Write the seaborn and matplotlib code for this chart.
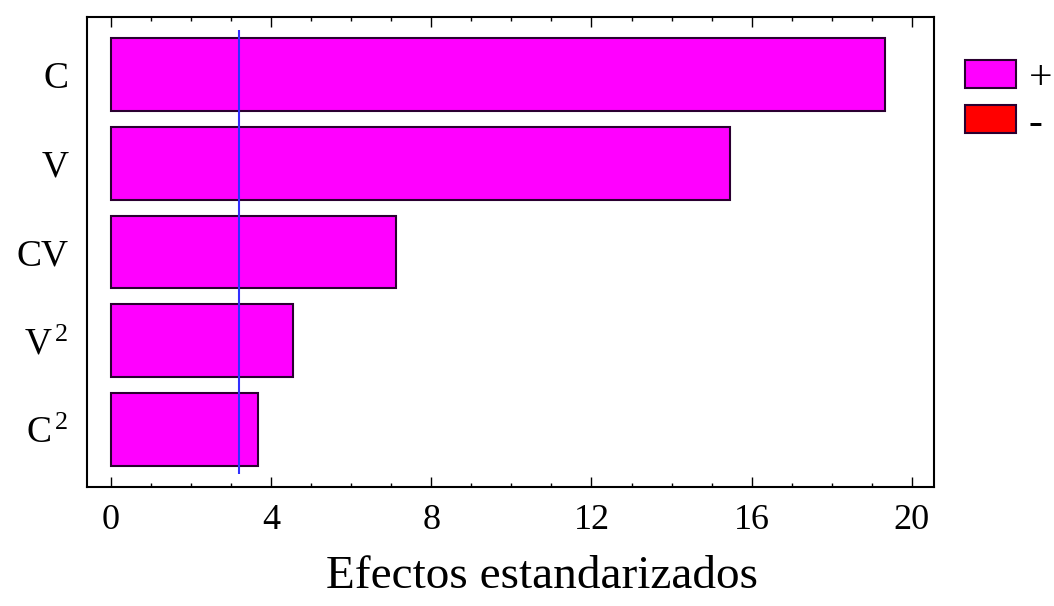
import matplotlib
matplotlib.use('Agg')
import matplotlib.pyplot as plt
from matplotlib.patches import Patch
from matplotlib.ticker import MultipleLocator
import pandas as pd
import seaborn as sns

# standardized effects (Pareto chart)
factors = [r'C', r'V', r'CV', r'V$^{\,2}$', r'C$^{\,2}$']
effects = [19.33, 15.47, 7.11, 4.54, 3.68]
signs = ['+', '+', '+', '+', '+']
critical = 3.2

legend_labels = ['+', '-']
legend_colors = ['#ff00ff', '#ff0000']

sns.set_style('white')
plt.rcParams['font.family'] = ['Liberation Serif', 'DejaVu Serif']
plt.rcParams['mathtext.fontset'] = 'custom'
plt.rcParams['mathtext.rm'] = 'Liberation Serif'
plt.rcParams['mathtext.it'] = 'Liberation Serif'
plt.rcParams['text.color'] = 'black'
plt.rcParams['xtick.color'] = 'black'
plt.rcParams['ytick.color'] = 'black'
plt.rcParams['axes.labelcolor'] = 'black'

df = pd.DataFrame({'factor': factors, 'effect': effects, 'sign': signs})

fig = plt.figure(figsize=(10.54, 6.06), dpi=100)
ax = fig.add_axes([0.0825, 0.196, 0.8035, 0.776])

sns.barplot(data=df, y='factor', x='effect', hue='sign', orient='h',
            palette={'+': '#ff00ff', '-': '#ff0000'}, width=0.82, saturation=1,
            edgecolor='#2a0030', linewidth=1.5, legend=False, ax=ax)

ax.vlines(critical, -0.5, 4.5, color='#3030ff', linewidth=1.5)

ax.set_xlim(-0.6, 20.55)
ax.set_ylim(4.65, -0.65)
ax.xaxis.set_major_locator(MultipleLocator(4))
ax.xaxis.set_minor_locator(MultipleLocator(1))
ax.tick_params(axis='x', which='both', direction='in', top=True, bottom=True,
               labelsize=26, pad=12)
ax.tick_params(axis='x', which='major', length=7, width=1)
ax.tick_params(axis='x', which='minor', length=3, width=1)
ax.tick_params(axis='y', left=False, right=False, labelsize=27, pad=10)
for s in ax.spines.values():
    s.set_visible(True)
    s.set_color('black')
    s.set_linewidth(1.5)

ax.set_ylabel('')
ax.set_xlabel('Efectos estandarizados', fontsize=34)
ax.xaxis.set_label_coords(0.537, -0.145)

handles = [Patch(facecolor=c, edgecolor='#2a0030', linewidth=1.5) for c in legend_colors]
fig.legend(handles, legend_labels, loc='upper left', bbox_to_anchor=(0.916, 0.902),
           frameon=False, fontsize=30, handlelength=1.22, handleheight=0.67,
           labelspacing=0.15, handletextpad=0.3, borderpad=0, borderaxespad=0)

fig.savefig('out.png', dpi=100)
